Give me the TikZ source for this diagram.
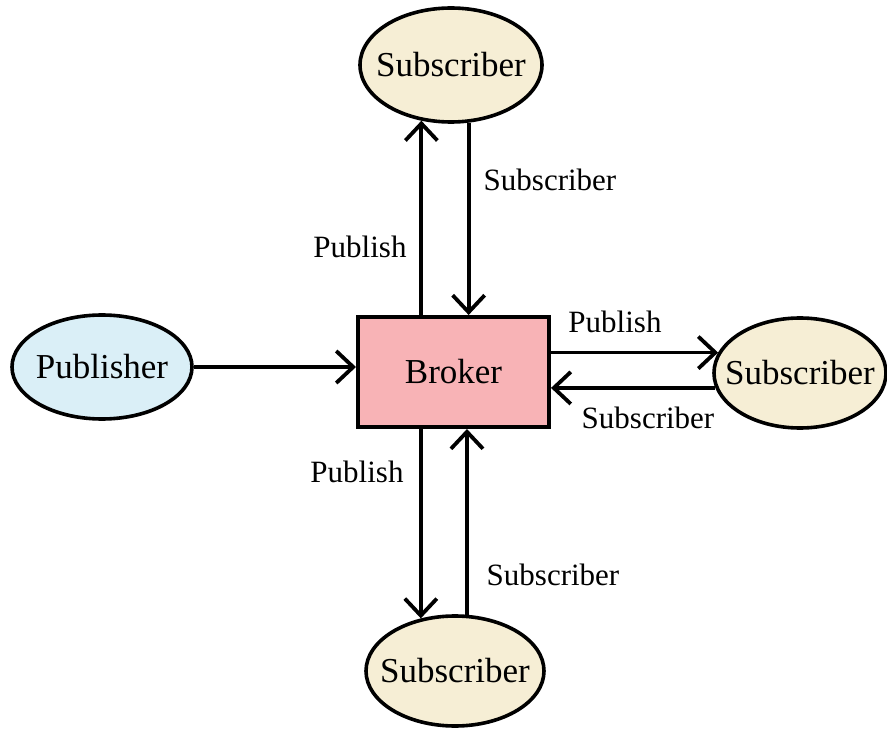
\documentclass[tikz,border=0pt]{standalone}
\usepackage{fontspec}
\setmainfont{Liberation Serif}
\usetikzlibrary{shapes.geometric,arrows.meta}
\definecolor{pubfill}{HTML}{DAEFF7}
\definecolor{subfill}{HTML}{F6EED5}
\definecolor{brokerfill}{HTML}{F8B3B6}
\begin{document}
\begin{tikzpicture}[x=1pt,y=-1pt,
  oval/.style={ellipse,draw=black,line width=3.6pt,inner sep=0pt},
  subnode/.style={oval,fill=subfill},
  pubnode/.style={oval,fill=pubfill},
  boxnode/.style={rectangle,draw=black,line width=4pt,fill=brokerfill,inner sep=0pt,
    minimum width=191pt,minimum height=110pt,font=\fontsize{35}{40}\selectfont},
  every label/.style={font=\fontsize{35}{40}\selectfont,inner sep=0pt},
  flow/.style={line width=3.8pt,-{Straight Barb[length=17pt,width=32pt,line width=3.8pt]}},
  tag/.style={font=\fontsize{31}{36}\selectfont,inner sep=0pt}]
\useasboundingbox (0,0) rectangle (887,730);

% nodes
\node[boxnode] (broker) at (453.5,372) {Broker};
\node[pubnode,minimum width=180pt,minimum height=104pt,label={center:Publisher}] (pub) at (102,367) {};
\node[subnode,minimum width=182pt,minimum height=114pt,label={center:Subscriber}] (subtop) at (451,65) {};
\node[subnode,minimum width=172pt,minimum height=110pt,label={center:Subscriber}] (subright) at (800,373) {};
\node[subnode,minimum width=178pt,minimum height=110pt,label={center:Subscriber}] (subbot) at (455,671) {};

% connectors
\draw[flow] (pub.east) -- (pub.east -| broker.west);
\draw[flow] (subtop.-118 |- broker.north) -- (subtop.-118);
\draw[flow] (subtop.-73) -- (subtop.-73 |- broker.north);
\draw[flow] (subright.166 -| broker.east) -- (subright.166);
\draw[flow] (subright.-170) -- (subright.-170 -| broker.east);
\draw[flow] (subbot.123 |- broker.south) -- (subbot.123);
\draw[flow] (subbot.78) -- (subbot.78 |- broker.south);

% connector texts
\node[tag] (t1) at (360,247) {Publish};
\node[tag] (t2) at (550,180) {Subscriber};
\node[tag] (t3) at (615,322) {Publish};
\node[tag] (t4) at (648,418) {Subscriber};
\node[tag] (t5) at (357,472) {Publish};
\node[tag] (t6) at (553,575) {Subscriber};
\end{tikzpicture}
\end{document}
